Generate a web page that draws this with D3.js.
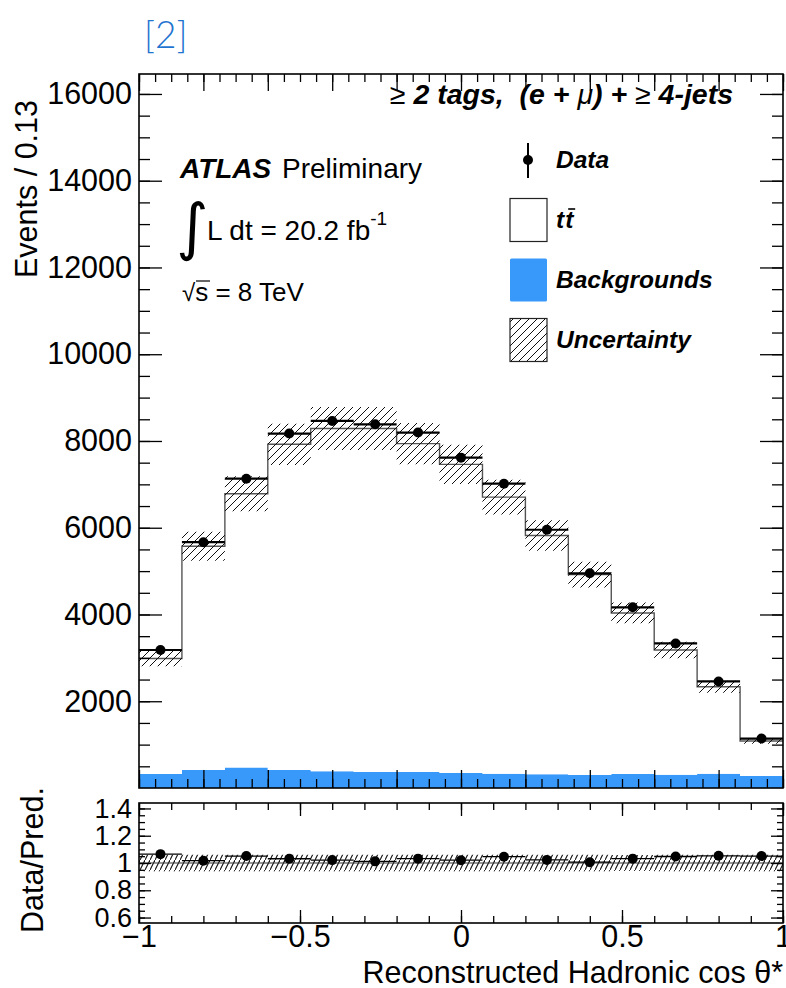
<!DOCTYPE html>
<html>
<head>
<meta charset="utf-8">
<script src="https://cdn.jsdelivr.net/npm/d3@7"></script>
<style>
  html, body { margin: 0; padding: 0; background: #fff; }
  svg { display: block; font-family: "Liberation Sans", Arial, Helvetica, sans-serif; }
</style>
</head>
<body>
<script>
// ---------------- data ----------------
const binEdges = [-1, -0.8667, -0.7333, -0.6, -0.4667, -0.3333, -0.2, -0.0667, 0.0667, 0.2, 0.3333, 0.4667, 0.6, 0.7333, 0.8667, 1];
const dataValues = [3181, 5667, 7131, 8171, 8462, 8385, 8194, 7616, 7016, 5953, 4950, 4165, 3333, 2456, 1140];
const dataErrors = [56, 75, 84, 90, 92, 92, 91, 87, 84, 77, 70, 65, 58, 50, 34];
const ttbarValues = [2664, 5158, 6314, 7507, 7901, 7916, 7570, 7115, 6376, 5505, 4620, 3713, 2873, 2003, 808];
const bkgValues = [323, 416, 470, 416, 385, 370, 370, 346, 330, 316, 300, 323, 308, 330, 277];
const uncValues = [180, 335, 405, 475, 495, 495, 475, 450, 400, 350, 295, 240, 190, 140, 65];
const mainYTicks = [2000, 4000, 6000, 8000, 10000, 12000, 14000, 16000];
const ratioYTicks = [0.6, 0.8, 1, 1.2, 1.4];
const ratioXTicks = [-1, -0.5, 0, 0.5, 1];
const legendLabels = ["Data", "t", "Backgrounds", "Uncertainty"];

// ---------------- layout ----------------
const W = 786, H = 988;
const L = 139, R = 783;
const mainTop = 74, mainBot = 788;
const ratTop = 803, ratBot = 923;
const black = "#000";
const blue = "#3899fb";
const FS = 30.5;
const FSR = 27;

const svg = d3.select("body").append("svg").attr("width", W).attr("height", H);

const defs = svg.append("defs");
const pm = defs.append("pattern").attr("id", "hatchMain").attr("patternUnits", "userSpaceOnUse")
  .attr("width", 8).attr("height", 8);
pm.append("path").attr("d", "M-1,9 L9,-1").attr("stroke", "#111").attr("stroke-width", 1);
const pr = defs.append("pattern").attr("id", "hatchRatio").attr("patternUnits", "userSpaceOnUse")
  .attr("width", 5).attr("height", 10);
pr.append("path").attr("d", "M-0.5,11 L5.5,-1").attr("stroke", "#111").attr("stroke-width", 1.1);
defs.append("clipPath").attr("id", "clipMain").append("rect")
  .attr("x", L).attr("y", mainTop).attr("width", R - L).attr("height", mainBot - mainTop);
defs.append("clipPath").attr("id", "clipRatio").append("rect")
  .attr("x", L).attr("y", ratTop).attr("width", R - L).attr("height", ratBot - ratTop);

const x = d3.scaleLinear().domain([-1, 1]).range([L, R]);
const y = d3.scaleLinear().domain([0, 16460]).range([mainBot, mainTop]);
const yr = d3.scaleLinear().domain([0.56, 1.44]).range([ratBot, ratTop]);

const nb = dataValues.length;
const bins = d3.range(nb).map(i => ({
  lo: binEdges[i], hi: binEdges[i + 1], c: (binEdges[i] + binEdges[i + 1]) / 2,
  data: dataValues[i], err: dataErrors[i], tt: ttbarValues[i], bkg: bkgValues[i],
  pred: ttbarValues[i] + bkgValues[i], unc: uncValues[i]
}));
const stepPts = bins.map(b => ({ e: b.lo, b })).concat([{ e: bins[nb - 1].hi, b: bins[nb - 1] }]);

// ---------------- main panel ----------------
const gm = svg.append("g").attr("clip-path", "url(#clipMain)");
gm.append("path").datum(stepPts)
  .attr("d", d3.area().curve(d3.curveStepAfter).x(d => x(d.e)).y0(y(0)).y1(d => y(d.b.bkg)))
  .attr("fill", blue);
gm.append("path").datum(stepPts)
  .attr("d", d3.area().curve(d3.curveStepAfter).x(d => x(d.e)).y0(d => y(d.b.bkg)).y1(d => y(d.b.pred)))
  .attr("fill", "#fff");
gm.append("path").datum(stepPts)
  .attr("d", d3.line().curve(d3.curveStepAfter).x(d => x(d.e)).y(d => y(d.b.pred)))
  .attr("fill", "none").attr("stroke", "#555").attr("stroke-width", 1.4);
gm.append("path").datum(stepPts)
  .attr("d", d3.area().curve(d3.curveStepAfter).x(d => x(d.e)).y0(d => y(d.b.pred - d.b.unc)).y1(d => y(d.b.pred + d.b.unc)))
  .attr("fill", "url(#hatchMain)");
const gd = gm.append("g");
gd.selectAll("line.xe").data(bins).join("line")
  .attr("x1", d => x(d.lo)).attr("x2", d => x(d.hi))
  .attr("y1", d => y(d.data)).attr("y2", d => y(d.data))
  .attr("stroke", black).attr("stroke-width", 2.2);
gd.selectAll("line.ye").data(bins).join("line")
  .attr("x1", d => x(d.c)).attr("x2", d => x(d.c))
  .attr("y1", d => y(d.data - d.err)).attr("y2", d => y(d.data + d.err))
  .attr("stroke", black).attr("stroke-width", 2);
gd.selectAll("circle").data(bins).join("circle")
  .attr("cx", d => x(d.c)).attr("cy", d => y(d.data)).attr("r", 5).attr("fill", black);

function styleAxis(g, fs) {
  g.select(".domain").remove();
  g.selectAll(".tick line").attr("stroke", black).attr("stroke-width", 1.3);
  g.selectAll(".tick text").attr("fill", black).attr("font-size", fs || FS).attr("font-family", "Liberation Sans, Arial, sans-serif");
}
const majX = d3.range(-1, 1.0001, 0.2);
const minX = d3.range(-1, 1.0001, 0.05);
svg.append("g").attr("transform", `translate(0,${mainTop})`)
  .call(d3.axisTop(x).tickValues(minX).tickSizeInner(-8).tickSizeOuter(0).tickFormat("")).call(styleAxis);
svg.append("g").attr("transform", `translate(0,${mainTop})`)
  .call(d3.axisTop(x).tickValues(majX).tickSizeInner(-17).tickSizeOuter(0).tickFormat("")).call(styleAxis);
svg.append("g").attr("transform", `translate(0,${mainBot})`)
  .call(d3.axisBottom(x).tickValues(minX).tickSizeInner(-9).tickSizeOuter(0).tickFormat("")).call(styleAxis);
svg.append("g").attr("transform", `translate(0,${mainBot})`)
  .call(d3.axisBottom(x).tickValues(majX).tickSizeInner(-18).tickSizeOuter(0).tickFormat("")).call(styleAxis);
const minY = d3.range(500, 16460, 500);
svg.append("g").attr("transform", `translate(${L},0)`)
  .call(d3.axisLeft(y).tickValues(minY).tickSizeInner(-11).tickSizeOuter(0).tickFormat("")).call(styleAxis);
svg.append("g").attr("transform", `translate(${L},0)`)
  .call(d3.axisLeft(y).tickValues(mainYTicks).tickSizeInner(-23).tickSizeOuter(0).tickPadding(7).tickFormat(d3.format("d")))
  .call(styleAxis);
svg.append("g").attr("transform", `translate(${R},0)`)
  .call(d3.axisRight(y).tickValues(minY).tickSizeInner(-11).tickSizeOuter(0).tickFormat("")).call(styleAxis);
svg.append("g").attr("transform", `translate(${R},0)`)
  .call(d3.axisRight(y).tickValues(mainYTicks).tickSizeInner(-23).tickSizeOuter(0).tickFormat("")).call(styleAxis);
svg.append("rect").attr("x", L).attr("y", mainTop).attr("width", R - L).attr("height", mainBot - mainTop)
  .attr("fill", "none").attr("stroke", black).attr("stroke-width", 1.6);

// ---------------- ratio panel ----------------
const gr = svg.append("g").attr("clip-path", "url(#clipRatio)");
gr.append("path").datum(stepPts)
  .attr("d", d3.area().curve(d3.curveStepAfter).x(d => x(d.e))
    .y0(d => yr(1 - d.b.unc / d.b.pred)).y1(d => yr(1 + d.b.unc / d.b.pred)))
  .attr("fill", "url(#hatchRatio)");
gr.append("line").attr("x1", L).attr("x2", R).attr("y1", yr(1)).attr("y2", yr(1))
  .attr("stroke", "#333").attr("stroke-width", 1);
gr.selectAll("line.xe").data(bins).join("line")
  .attr("x1", d => x(d.lo)).attr("x2", d => x(d.hi))
  .attr("y1", d => yr(d.data / d.pred)).attr("y2", d => yr(d.data / d.pred))
  .attr("stroke", black).attr("stroke-width", 1.3);
gr.selectAll("line.ye").data(bins).join("line")
  .attr("x1", d => x(d.c)).attr("x2", d => x(d.c))
  .attr("y1", d => yr((d.data - d.err) / d.pred)).attr("y2", d => yr((d.data + d.err) / d.pred))
  .attr("stroke", black).attr("stroke-width", 1.5);
gr.selectAll("circle").data(bins).join("circle")
  .attr("cx", d => x(d.c)).attr("cy", d => yr(d.data / d.pred)).attr("r", 5).attr("fill", black);

const rMinX = d3.range(-1, 1.0001, 0.1);
svg.append("g").attr("transform", `translate(0,${ratTop})`)
  .call(d3.axisTop(x).tickValues(rMinX).tickSizeInner(-7).tickSizeOuter(0).tickFormat("")).call(styleAxis);
svg.append("g").attr("transform", `translate(0,${ratTop})`)
  .call(d3.axisTop(x).tickValues(ratioXTicks).tickSizeInner(-13).tickSizeOuter(0).tickFormat("")).call(styleAxis);
svg.append("g").attr("transform", `translate(0,${ratBot})`)
  .call(d3.axisBottom(x).tickValues(rMinX).tickSizeInner(-7).tickSizeOuter(0).tickFormat("")).call(styleAxis);
svg.append("g").attr("transform", `translate(0,${ratBot})`)
  .call(d3.axisBottom(x).tickValues(ratioXTicks).tickSizeInner(-13).tickSizeOuter(0).tickPadding(2)
    .tickFormat(d => d === 0 ? "0" : (d < 0 ? "\u2212" : "") + d3.format("")(Math.abs(d))))
  .call(styleAxis);
const rMinY = d3.range(0.6, 1.4001, 0.05);
svg.append("g").attr("transform", `translate(${L},0)`)
  .call(d3.axisLeft(yr).tickValues(rMinY).tickSizeInner(-6).tickSizeOuter(0).tickFormat("")).call(styleAxis);
svg.append("g").attr("transform", `translate(${L},0)`)
  .call(d3.axisLeft(yr).tickValues(ratioYTicks).tickSizeInner(-12).tickSizeOuter(0).tickPadding(7)
    .tickFormat(d => d === 1 ? "1" : d3.format(".1f")(d)))
  .call(g => styleAxis(g, FSR));
svg.append("g").attr("transform", `translate(${R},0)`)
  .call(d3.axisRight(yr).tickValues(rMinY).tickSizeInner(-6).tickSizeOuter(0).tickFormat("")).call(styleAxis);
svg.append("g").attr("transform", `translate(${R},0)`)
  .call(d3.axisRight(yr).tickValues(ratioYTicks).tickSizeInner(-12).tickSizeOuter(0).tickFormat("")).call(styleAxis);
svg.append("rect").attr("x", L).attr("y", ratTop).attr("width", R - L).attr("height", ratBot - ratTop)
  .attr("fill", "none").attr("stroke", black).attr("stroke-width", 1.6);

// ---------------- titles ----------------
svg.append("text").attr("transform", "translate(37,100) rotate(-90)").attr("text-anchor", "end")
  .attr("font-size", FS).text("Events / 0.13");
svg.append("text").attr("transform", `translate(43,${(ratTop + ratBot) / 2 - 3}) rotate(-90)`).attr("text-anchor", "middle")
  .attr("font-size", FS).text("Data/Pred.");
svg.append("text").attr("x", R).attr("y", 983).attr("text-anchor", "end")
  .attr("font-size", FS).text("Reconstructed Hadronic cos \u03B8*");

svg.append("text").attr("x", 144).attr("y", 48).attr("font-size", 37).attr("fill", "#1f74d0")
  .attr("font-family", "Lato, 'Open Sans', 'Liberation Sans', sans-serif").attr("font-weight", 300).text("[2]");

// header
const hdr = svg.append("text").attr("x", 733).attr("y", 104).attr("text-anchor", "end")
  .attr("font-size", 28.5).attr("font-weight", "bold").attr("font-style", "italic")
  .attr("xml:space", "preserve").style("white-space", "pre");
hdr.append("tspan").attr("font-weight", "normal").attr("font-style", "normal").text("\u2265 ");
hdr.append("tspan").text("2 tags,\u00A0\u00A0(e + ");
hdr.append("tspan").attr("font-weight", "normal").text("\u03BC");
hdr.append("tspan").text(") + ");
hdr.append("tspan").attr("font-weight", "normal").attr("font-style", "normal").text("\u2265 ");
hdr.append("tspan").text("4-jets");

// ATLAS block
svg.append("text").attr("x", 180).attr("y", 178).attr("font-size", 28)
  .attr("font-weight", "bold").attr("font-style", "italic").text("ATLAS");
svg.append("text").attr("x", 282).attr("y", 178).attr("font-size", 28).text("Preliminary");
svg.append("text").attr("x", 176).attr("y", 248).attr("font-size", 62)
  .attr("font-family", "'DejaVu Sans', sans-serif").text("\u222B");
const lum = svg.append("text").attr("x", 207).attr("y", 240).attr("font-size", 28);
lum.append("tspan").text("L dt = 20.2 fb");
lum.append("tspan").attr("font-size", 19).attr("dy", -15).text("-1");
const rs = svg.append("text").attr("x", 182).attr("y", 301).attr("font-size", 26);
rs.append("tspan").attr("font-size", 24).text("\u221A");
rs.append("tspan").text("s = 8 TeV");
svg.append("line").attr("x1", 196).attr("x2", 210).attr("y1", 281).attr("y2", 281)
  .attr("stroke", black).attr("stroke-width", 1.2);

// ---------------- legend ----------------
const lx = 510, lw = 37, lh = 43, tx = 556;
const rows = [160, 220, 280, 340];
svg.append("line").attr("x1", 528).attr("x2", 528).attr("y1", rows[0] - 17).attr("y2", rows[0] + 18)
  .attr("stroke", black).attr("stroke-width", 2);
svg.append("circle").attr("cx", 528).attr("cy", rows[0]).attr("r", 5).attr("fill", black);
svg.append("rect").attr("x", lx).attr("y", rows[1] - lh / 2).attr("width", lw).attr("height", lh)
  .attr("fill", "#fff").attr("stroke", "#222").attr("stroke-width", 1.2);
svg.append("rect").attr("x", lx).attr("y", rows[2] - lh / 2).attr("width", lw).attr("height", lh)
  .attr("fill", blue).attr("rx", 1.5);
svg.append("rect").attr("x", lx).attr("y", rows[3] - lh / 2).attr("width", lw).attr("height", lh)
  .attr("fill", "url(#hatchMain)").attr("stroke", "#222").attr("stroke-width", 1.2);

const legText = svg.append("g").attr("font-size", 24.5).attr("font-weight", "bold").attr("font-style", "italic");
legendLabels.forEach((t, i) => {
  legText.append("text").attr("x", tx).attr("y", rows[i] + 8).text(t);
});
const firstT = legText.selectAll("text").nodes()[1];
const tw = firstT.getComputedTextLength();
const t2 = legText.append("text").attr("x", tx + tw + 1).attr("y", rows[1] + 8).text("t");
const bb = t2.node().getBBox();
svg.append("line").attr("x1", bb.x + 3).attr("x2", bb.x + bb.width + 1)
  .attr("y1", bb.y + 3).attr("y2", bb.y + 3)
  .attr("stroke", black).attr("stroke-width", 1.6);
</script>
</body>
</html>
